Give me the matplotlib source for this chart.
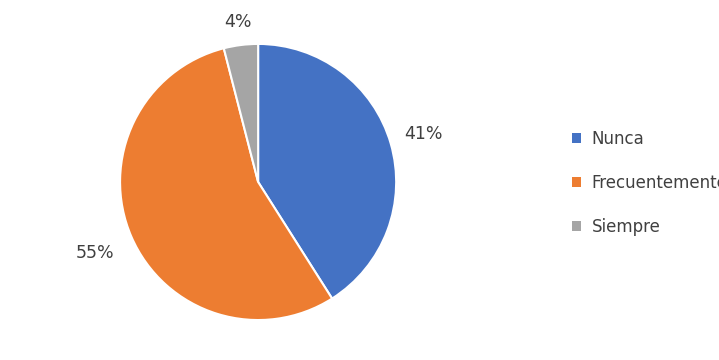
import numpy as np
import matplotlib.pyplot as plt
from matplotlib.patches import Patch

labels = ["Nunca", "Frecuentemente", "Siempre"]
values = [41, 55, 4]
colors = ["#4472C4", "#ED7D31", "#A5A5A5"]
text_color = "#404040"
label_dist = [1.25, 1.29, 1.17]  # distance of each % label from centre

fig = plt.figure(figsize=(7.19, 3.6), dpi=100)
ax = fig.add_axes([0.359 - 0.192, 0.494 - 0.383, 0.384, 0.767])

wedges, texts, autotexts = ax.pie(
    values, colors=colors, startangle=90, counterclock=False,
    autopct="%1.0f%%", pctdistance=1.24,
    wedgeprops=dict(edgecolor="white", linewidth=1.5),
    textprops=dict(color=text_color, fontsize=12.5),
)
for w, t, d in zip(wedges, autotexts, label_dist):
    ang = np.deg2rad((w.theta1 + w.theta2) / 2)
    t.set_position((d * np.cos(ang), d * np.sin(ang)))
ax.set_xlim(-1, 1)
ax.set_ylim(-1, 1)

handles = [Patch(facecolor=c, edgecolor="none") for c in colors]
fig.legend(handles, labels, loc="upper left", bbox_to_anchor=(0.775, 0.68),
           frameon=False, fontsize=12, handlelength=0.55, handleheight=0.55,
           handletextpad=0.6, labelspacing=1.55, labelcolor=text_color)

fig.savefig("out.png", dpi=100)
